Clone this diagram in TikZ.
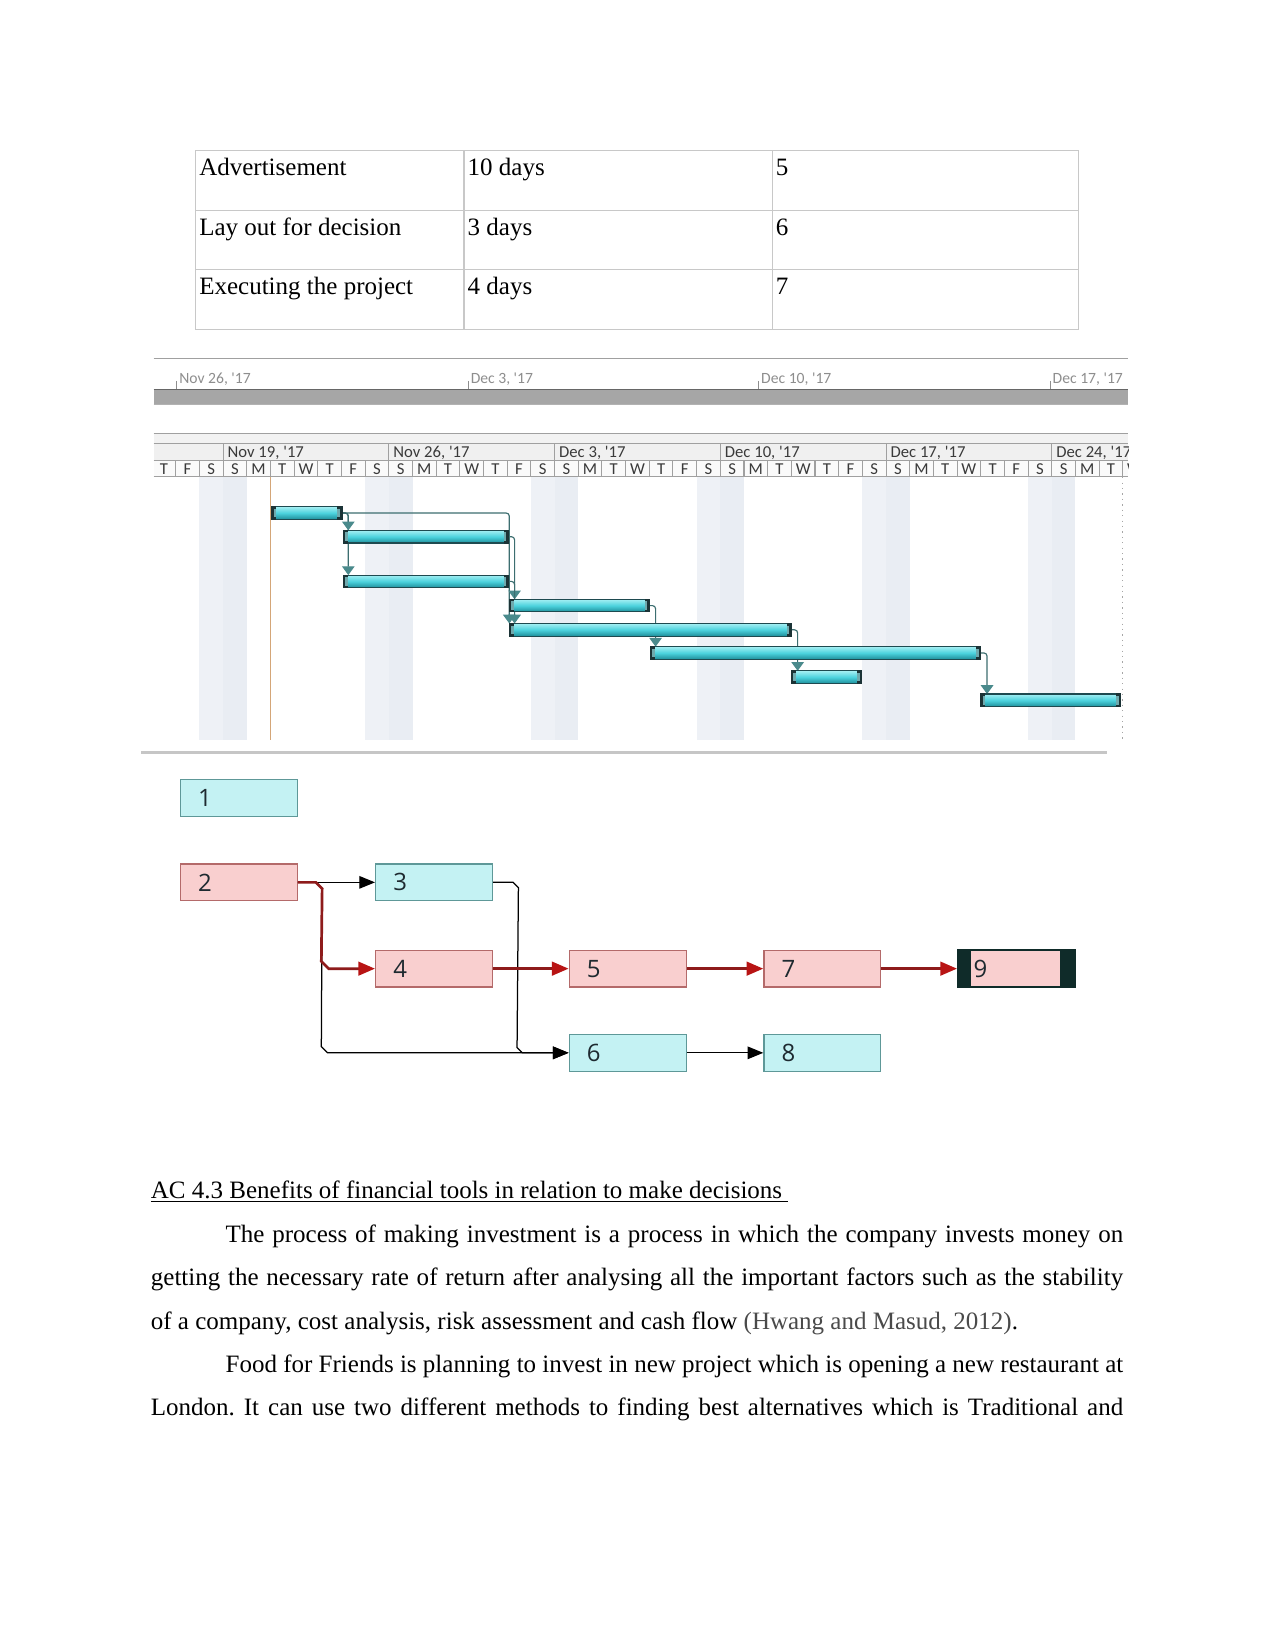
\documentclass[tikz,border=0pt]{standalone}
\usepackage{fontspec}
\setmainfont{Liberation Serif}
\newfontfamily\gfont{Carlito}
\newfontfamily\nfont{Open Sans}
\usetikzlibrary{arrows.meta,fit,calc}
\frenchspacing
\definecolor{tgrid}{HTML}{C8C8C8}
\definecolor{tlgray}{HTML}{8E8E8E}
\definecolor{tlbar}{HTML}{A6A6A6}
\definecolor{hdrline}{HTML}{A0A0A0}
\definecolor{hdrtext}{HTML}{3A3A3A}
\definecolor{hdrfill}{HTML}{F0F0F0}
\definecolor{banda}{HTML}{EEF1F6}
\definecolor{bandb}{HTML}{E9EDF3}
\definecolor{todayc}{HTML}{D4A678}
\definecolor{glink}{HTML}{3C6E70}
\definecolor{gtipc}{HTML}{4A8A8C}
\definecolor{bartop}{HTML}{A4EFF3}
\definecolor{barmid}{HTML}{4CD2DD}
\definecolor{barbot}{HTML}{1E8E9A}
\definecolor{barline}{HTML}{1E4A50}
\definecolor{barcap}{HTML}{1B3336}
\definecolor{capin}{HTML}{6FAAAE}
\definecolor{cyanfill}{HTML}{C4F2F3}
\definecolor{cyanline}{HTML}{5E9898}
\definecolor{pinkfill}{HTML}{F9CFCF}
\definecolor{pinkline}{HTML}{B46A6A}
\definecolor{critline}{HTML}{8E1B1B}
\definecolor{crittip}{HTML}{B81414}
\definecolor{darkend}{HTML}{0F2B29}
\definecolor{citec}{HTML}{4A4A4A}
\definecolor{numtext}{HTML}{1E2A30}
\tikzset{
 tline/.style={draw=tgrid, line width=0.6pt},
 ttext/.style={anchor=base west, inner sep=0, font=\fontsize{12}{14}\selectfont},
 ptext/.style={anchor=base west, inner sep=0, font=\fontsize{12}{14}\selectfont},
 tllabel/.style={anchor=base west, inner sep=0, font=\gfont\fontsize{7.5}{9}\selectfont, text=tlgray},
 wklabel/.style={anchor=base west, inner sep=0, font=\gfont\fontsize{8}{9}\selectfont, text=hdrtext},
 daylabel/.style={anchor=base, inner sep=0, font=\gfont\fontsize{8}{9}\selectfont, text=hdrtext},
 gbar/.style={rectangle, inner sep=0, draw=barline, line width=0.5pt, top color=bartop, bottom color=barbot, middle color=barmid},
 gcap/.style={fill=barcap},
 gcapin/.style={fill=capin},
 glk/.style={draw=glink, line width=0.55pt, rounded corners=1.5pt, -{Triangle[width=6pt,length=4.2pt,color=gtipc]}},
 nbox/.style={rectangle, minimum width=56.1pt, minimum height=17.7pt, inner ysep=0, inner xsep=8.5pt, text width=39.1pt, align=left, font=\nfont\fontsize{11.5}{12}\selectfont, text=numtext, line width=0.6pt},
 cbox/.style={nbox, fill=cyanfill, draw=cyanline},
 pbox/.style={nbox, fill=pinkfill, draw=pinkline},
 nlk/.style={draw=black, line width=0.6pt, -{Triangle[width=6pt,length=7.5pt]}},
 clk/.style={draw=critline, line width=1.3pt, -{Triangle[width=6.5pt,length=8pt,color=crittip]}},
}
\begin{document}
\begin{tikzpicture}[x=0.505pt,y=-0.505pt]
\fill[white] (0,0) rectangle (1212,1568);
\useasboundingbox (0,0) rectangle (1212,1568);

% ---------- table ----------
\draw[tline] (186,143) rectangle (1025,313);
\draw[tline] (186,200) -- (1025,200) (186,256) -- (1025,256) (441,143) -- (441,313) (734,143) -- (734,313);
\node[ttext] (r1a) at (189,167) {Advertisement};
\node[ttext] (r1b) at (444,167) {10 days};
\node[ttext] (r1c) at (737,167) {5};
\node[ttext] (r2a) at (189,223.5) {Lay out for decision};
\node[ttext] (r2b) at (444,223.5) {3 days};
\node[ttext] (r2c) at (737,223.5) {6};
\node[ttext] (r3a) at (189,280) {Executing the project};
\node[ttext] (r3b) at (444,280) {4 days};
\node[ttext] (r3c) at (737,280) {7};

% ---------- top timeline ----------
\draw[draw=hdrline, line width=0.7pt] (146,340.5) -- (1072,340.5);
\fill[tlbar] (146,370) rectangle (1072,384);
\draw[draw=gray!80!black, line width=0.5pt] (146,370) -- (1072,370);
\draw[draw=gray!60, line width=0.5pt] (146,384) -- (1072,384);
\begin{scope}
\clip (146,345) rectangle (1072,371);
\foreach \x in {168,445,721,998} \draw[draw=tlgray, line width=0.4pt] (\x,362) -- (\x,370);
\node[tllabel] (tl1) at (170,364.5) {Nov 26, '17};
\node[tllabel] (tl2) at (447,364.5) {Dec 3, '17};
\node[tllabel] (tl3) at (723,364.5) {Dec 10, '17};
\node[tllabel] (tl4) at (1000,364.5) {Dec 17, '17};
\end{scope}

% ---------- gantt header ----------
\fill[gray!10] (146,412) rectangle (1072,421);
\fill[hdrfill] (146,421) rectangle (1072,438);
\fill[gray!4] (146,438) rectangle (1072,453);
\draw[draw=hdrline, line width=0.5pt] (146,412) -- (1072,412);
\draw[draw=hdrline, line width=0.5pt] (146,421) -- (1072,421) (146,438) -- (1072,438) (146,453) -- (1072,453);
\begin{scope}
\clip (146,421) rectangle (1072,454);
\foreach \x in {212,369.5,527,684.5,842,999.5} \draw[draw=hdrline, line width=0.5pt] (\x,421) -- (\x,438);
\foreach \k in {0,...,42} \draw[draw=hdrline, line width=0.5pt] ({144.5+22.5*\k},438) -- ({144.5+22.5*\k},453);
\foreach \l [count=\k from 0] in {T,F,S,S,M,T,W,T,F,S,S,M,T,W,T,F,S,S,M,T,W,T,F,S,S,M,T,W,T,F,S,S,M,T,W,T,F,S,S,M,T,W}
  \node[daylabel] (d\k) at ({155.75+22.5*\k},450.5) {\l};
\node[wklabel] (w1) at (216,434.5) {Nov 19, '17};
\node[wklabel] (w2) at (373.5,434.5) {Nov 26, '17};
\node[wklabel] (w3) at (531,434.5) {Dec 3, '17};
\node[wklabel] (w4) at (688.5,434.5) {Dec 10, '17};
\node[wklabel] (w5) at (846,434.5) {Dec 17, '17};
\node[wklabel] (w6) at (1003.5,434.5) {Dec 24, '17};
\end{scope}

% ---------- gantt body ----------
\foreach \k in {2,9,16,23,30,37} {
  \fill[banda] ({144.5+22.5*\k},453.5) rectangle ({167+22.5*\k},703);
  \fill[bandb] ({167+22.5*\k},453.5) rectangle ({189.5+22.5*\k},703);
}
\draw[draw=todayc, line width=0.6pt] (257,453.5) -- (257,703);
\draw[draw=gray!70, line width=0.6pt, dotted] (1067,453.5) -- (1067,703);
\draw[draw=gray!45, line width=1.3pt] (134,715) -- (1052,715);

\path (258,481.5) coordinate (b1a) (325,493.5) coordinate (b1b)
      (326,504) coordinate (b2a) (483,516) coordinate (b2b)
      (326,546.5) coordinate (b3a) (483,558.5) coordinate (b3b)
      (484,569.5) coordinate (b4a) (617,581.5) coordinate (b4b)
      (484,592.5) coordinate (b5a) (752,604.5) coordinate (b5b)
      (618,614.5) coordinate (b6a) (932,626.5) coordinate (b6b)
      (752,637.5) coordinate (b7a) (819,649.5) coordinate (b7b)
      (932,659.5) coordinate (b8a) (1065,671.5) coordinate (b8b);

% links (drawn before bars)
\draw[glk] (b1b |- 0,487.5) -| ($(b3a)+(5,0)$);
\draw[glk] (b1b |- 0,487.5) -| ($(b2a)+(5,0)$);
\draw[glk] (b1b |- 0,487.5) -| ($(b5a)+(0,0)$);
\draw[glk] (b2b |- 0,510) -| ($(b4a)+(5,0)$);
\draw[glk] (b3b |- 0,552.5) -| ($(b5a)+(5,0)$);
\draw[glk] (b4b |- 0,575.5) -| ($(b6a)+(5,0)$);
\draw[glk] (b5b |- 0,598.5) -| ($(b7a)+(6,0)$);
\draw[glk] (b6b |- 0,620.5) -| ($(b8a)+(6,0)$);

\foreach \i in {1,...,8} {
  \node[gbar, fit={(b\i a) (b\i b)}] (b\i) {};
  \fill[gcap] (b\i.north west) rectangle ($(b\i.south west)+(5,0)$);
  \fill[gcapin] ($(b\i.north west)+(2.5,2.5)$) rectangle ($(b\i.south west)+(5,-2.5)$);
  \fill[gcap] (b\i.north east) rectangle ($(b\i.south east)+(-5,0)$);
  \fill[gcapin] ($(b\i.north east)+(-2.5,2.5)$) rectangle ($(b\i.south east)+(-5,-2.5)$);
}

% ---------- network diagram ----------
\node[cbox] (n1) at (227,758.5) {1};
\node[pbox] (n2) at (227,838.5) {2};
\node[cbox] (n3) at (412.5,838.5) {3};
\node[pbox] (n4) at (412.5,920.5) {4};
\node[pbox] (n5) at (596.5,920.5) {5};
\node[pbox] (n7) at (781.5,920.5) {7};
\node[pbox, draw=darkend, line width=1pt, inner xsep=7.5pt, text width=41.1pt] (n9) at (966,920.5) {9};
\fill[darkend] (n9.north west) rectangle ($(n9.south west)+(13,0)$);
\fill[darkend] (n9.north east) rectangle ($(n9.south east)+(-15,0)$);
\node[cbox] (n6) at (596.5,1000.5) {6};
\node[cbox] (n8) at (781.5,1000.5) {8};

\draw[nlk] (n2.east) -- (n3.west);
\draw[nlk] (n2.east) -- ++(17,0) -- ++(6,6) -- ($(n6.west)+(-235,-6)$) -- ++(6,6) -- (n6.west);
\draw[nlk] (n3.east) -- ++(19,0) -- ++(5,5) -- ($(n6.west)+(-49,-5)$) -- ++(5,5) -- (n6.west);
\draw[clk] (n2.east) -- ++(17,0) -- ++(6,6) -- ($(n4.west)+(-51,-7)$) -- ++(7,7) -- (n4.west);
\draw[clk] (n4.east) -- (n5.west);
\draw[clk] (n5.east) -- (n7.west);
\draw[clk] (n7.east) -- (n9.west);
\draw[nlk] (n6.east) -- (n8.west);

% ---------- text ----------
\node[ptext] (h) at (143,1139) {\underline{AC 4.3 Benefits of financial tools in relation to make decisions\ }};
\node[ptext] (p1) at (214,1181) {\makebox[430.8pt][s]{The process of making investment is a process in which the company invests money on}};
\node[ptext] (p2) at (143,1222) {\makebox[466.6pt][s]{getting the necessary rate of return after analysing all the important factors such as the stability}};
\node[ptext] (p3) at (143,1263) {of a company, cost analysis, risk assessment and cash flow {\color{citec}(Hwang and Masud, 2012)}.};
\node[ptext] (p4) at (214,1304) {\makebox[430.8pt][s]{Food for Friends is planning to invest in new project which is opening a new restaurant at}};
\node[ptext] (p5) at (143,1345) {\makebox[466.6pt][s]{London. It can use two different methods to finding best alternatives which is Traditional and}};
\end{tikzpicture}
\end{document}
